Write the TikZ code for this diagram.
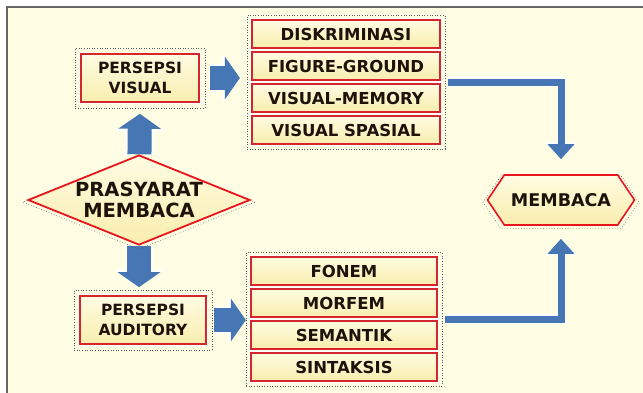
\documentclass[tikz,border=0pt]{standalone}
\usepackage{fontspec}
\setmainfont{DejaVu Sans}
\usetikzlibrary{shapes.geometric,shapes.symbols,arrows.meta,fit,shadows}

\definecolor{cream}{HTML}{FFFEE4}
\definecolor{boxtop}{HTML}{FFFCE2}
\definecolor{boxbot}{HTML}{F9EDAE}
\definecolor{boxred}{HTML}{D4262C}
\definecolor{brightred}{HTML}{E8151D}
\definecolor{arrowblue}{HTML}{4677B4}
\definecolor{ink}{HTML}{1E130A}

\pgfdeclarelayer{frame}
\pgfdeclarelayer{links}
\pgfsetlayers{frame,links,main}

\tikzset{
  box/.style={draw=boxred, line width=1.6pt, top color=boxtop, bottom color=boxbot,
    text=ink, inner sep=0pt, align=center,
    preaction={draw=white, line width=4.6pt}},
  persepsi/.style={box, minimum height=48pt, font=\bfseries\fontsize{15.5}{20}\selectfont},
  item/.style={box, minimum width=188pt, minimum height=28pt, font=\bfseries\fontsize{16.5}{18}\selectfont},
  decision/.style={diamond, aspect=2.47, minimum width=222pt, minimum height=90pt, inner sep=0pt,
    draw=brightred, line width=1.8pt, top color=boxtop, bottom color=boxbot, text=ink, align=center,
    font=\bfseries\fontsize{19.5}{21}\selectfont,
    drop shadow={fill=none, draw=black!65, dotted, line width=0.6pt, opacity=1,
      shadow scale=1.05, shadow xshift=0pt, shadow yshift=-2pt}},
  goal/.style={signal, signal to=east and west, signal pointer angle=112,
    minimum width=147pt, minimum height=50pt, inner sep=0pt,
    draw=brightred, line width=1.6pt, top color=boxtop, bottom color=boxbot, text=ink,
    font=\bfseries\fontsize{17.5}{20}\selectfont,
    drop shadow={fill=none, draw=black!65, dotted, line width=0.6pt, opacity=1,
      shadow scale=1.06, shadow xshift=0pt, shadow yshift=-2pt}},
  halo/.style={draw=black!65, dotted, line width=0.6pt},
  blockarrow/.style={draw=arrowblue, line width=24pt, -{Triangle[width=42pt,length=15pt]},
    preaction={draw=white, line width=28pt, -{Triangle[width=48pt,length=18pt]}}},
  bendarrow/.style={draw=arrowblue, line width=7pt, line join=miter, -{Triangle[width=26pt,length=15pt]},
    preaction={draw=white, line width=10pt, -{Triangle[width=31pt,length=17pt]}}}
}

\begin{document}
\begin{tikzpicture}[x=1pt,y=-1pt]
  \path[use as bounding box] (0,0) rectangle (643,392);

  % left column
  \node[persepsi, minimum width=118pt] (visual) at (140,78) {PERSEPSI\\VISUAL};
  \node[decision] (prasyarat) at (139,200) {PRASYARAT\\MEMBACA};
  \node[persepsi, minimum width=126pt] (auditory) at (143,320) {PERSEPSI\\AUDITORY};

  % visual list
  \node[item] (diskriminasi) at (346,34) {DISKRIMINASI};
  \node[item] (figure) at (346,66) {FIGURE-GROUND};
  \node[item] (memory) at (346,98) {VISUAL-MEMORY};
  \node[item] (spasial) at (346,130) {VISUAL SPASIAL};

  % auditory list
  \node[item, minimum width=186pt] (fonem) at (344,271) {FONEM};
  \node[item, minimum width=186pt] (morfem) at (344,303) {MORFEM};
  \node[item, minimum width=186pt] (semantik) at (344,335) {SEMANTIK};
  \node[item, minimum width=186pt] (sintaksis) at (344,367) {SINTAKSIS};

  \node[goal] (membaca) at (561,200) {MEMBACA};

  % dotted outlines
  \node[halo, fit=(visual), inner sep=5pt] (visualhalo) {};
  \node[halo, fit=(auditory), inner sep=5pt] (auditoryhalo) {};
  \node[halo, fit=(diskriminasi)(spasial), inner sep=4pt] (visualgrp) {};
  \node[halo, fit=(fonem)(sintaksis), inner sep=4pt] (auditorygrp) {};

  \begin{pgfonlayer}{frame}
    \fill[white] (0,0) rectangle (643,392);
    \draw[draw=black!60, line width=2.4pt, fill=cream] (7,7) rectangle (652,402);
  \end{pgfonlayer}

  \begin{pgfonlayer}{links}
    \draw[blockarrow, shorten >=11pt] (prasyarat) -- (visual.south);
    \draw[blockarrow, shorten >=8pt] (prasyarat) -- (prasyarat |- auditory.north);
    \draw[blockarrow, shorten <=10pt, shorten >=7pt] (visual.east) -- (visual.east -| visualgrp.west);
    \draw[blockarrow, shorten <=7pt] (auditory.east) -- (auditory.east -| auditorygrp.west);
    \draw[bendarrow, shorten <=3pt, shorten >=15pt] (visualgrp.east) -| (membaca.north);
    \draw[bendarrow, shorten <=3pt, shorten >=13pt] (auditorygrp.east) -| (membaca.south);
  \end{pgfonlayer}
\end{tikzpicture}
\end{document}
